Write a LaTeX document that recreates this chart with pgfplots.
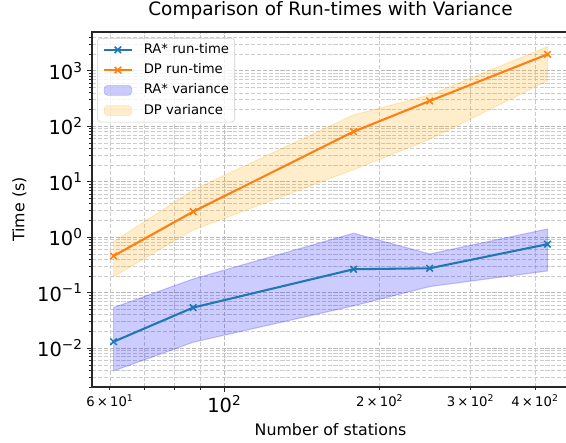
\documentclass[border=0pt]{standalone}
\usepackage{fontspec}
\setmainfont{DejaVu Sans}
\usepackage{pgfplots}
\pgfplotsset{compat=1.18}

\definecolor{raline}{HTML}{1F77B4}
\definecolor{dpline}{HTML}{FF7F0E}
\definecolor{raband}{HTML}{0000FF}
\definecolor{dpband}{HTML}{FFA500}

\pgfplotsset{
  lineleg/.style={legend image code/.code={
    \draw[##1, mark repeat=2, mark phase=2] plot coordinates {(0pt,0pt) (10pt,0pt) (20pt,0pt)};}},
  bandleg/.style={legend image code/.code={
    \draw[##1] (0pt,-3.6pt) rectangle (20pt,3.6pt);}},
}

\begin{document}
\begin{tikzpicture}
\begin{axis}[
    name=ax,
    at={(0,0)}, anchor=south west,
    scale only axis,
    width=343.44pt, height=255.6pt,
    xmode=log, ymode=log,
    xmin=55.4, xmax=465.6,
    ymin=0.002, ymax=5000,
    axis line style={black!85, line width=0.8pt},
    tick pos=left,
    tick align=outside,
    major tick length=3.5pt,
    minor tick length=2pt,
    every tick/.style={black!85, line width=0.6pt},
    xtick={100},
    xticklabels={10\textsuperscript{2}},
    minor xtick={60,70,80,90,200,300,400},
    extra x ticks={60,200,300,400},
    extra x tick labels={6\,×\,10\textsuperscript{1},2\,×\,10\textsuperscript{2},3\,×\,10\textsuperscript{2},4\,×\,10\textsuperscript{2}},
    extra x tick style={grid=none, major tick length=2pt,
      xticklabel style={font=\fontsize{9.5}{11}\selectfont, yshift=-0.9pt}},
    ytick={0.01,0.1,1,10,100,1000},
    yticklabels={10\textsuperscript{−2},10\textsuperscript{−1},10\textsuperscript{0},10\textsuperscript{1},10\textsuperscript{2},10\textsuperscript{3}},
    minor ytick={0.002,0.003,0.004,0.005,0.006,0.007,0.008,0.009,
      0.02,0.03,0.04,0.05,0.06,0.07,0.08,0.09,
      0.2,0.3,0.4,0.5,0.6,0.7,0.8,0.9,
      2,3,4,5,6,7,8,9,
      20,30,40,50,60,70,80,90,
      200,300,400,500,600,700,800,900,
      2000,3000,4000},
    xticklabel style={font=\fontsize{14}{16}\selectfont, inner sep=0pt, yshift=-2.3pt},
    yticklabel style={font=\fontsize{14}{16}\selectfont, inner sep=0pt, xshift=-3pt},
    grid=both,
    major grid style={gray!55, line width=0.5pt, dash pattern=on 2.96pt off 1.28pt},
    minor grid style={gray!40, line width=0.5pt, dash pattern=on 2.96pt off 1.28pt},
    title={Comparison of Run-times with Variance},
    title style={font=\fontsize{13.3}{15}\selectfont, at={(axis description cs:0.5,1.0225)}, anchor=base},
    xlabel={Number of stations},
    xlabel style={font=\fontsize{11.4}{13}\selectfont, at={(axis description cs:0.5,-0.138)}, anchor=base},
    ylabel={Time (s)},
    ylabel style={font=\fontsize{11.4}{13}\selectfont, at={(axis description cs:-0.152,0.5)}, anchor=center},
    legend style={
      at={(axis description cs:0.0105,0.983)}, anchor=north west,
      draw=black!20, rounded corners=2.5pt, fill=white, fill opacity=0.8, text opacity=1,
      font=\fontsize{9.5}{11}\selectfont,
      inner xsep=4.1pt, inner ysep=1pt, row sep=0pt,
      nodes={inner xsep=0pt, inner ysep=2.7pt, text height=7pt, text depth=2.2pt},
      /tikz/every odd column/.append style={column sep=7.9pt},
    },
    legend cell align=left,
]

% variance bands (upper edge left to right, lower edge back)
\addplot[forget plot, fill=raband, fill opacity=0.2, draw=raband, draw opacity=0.2, line width=0.8pt]
  coordinates {(61,0.054) (87,0.177) (178,1.18) (250,0.50) (423,1.41)
               (423,0.247) (250,0.129) (178,0.058) (87,0.0128) (61,0.0039)} -- cycle;
\addplot[forget plot, fill=dpband, fill opacity=0.2, draw=dpband, draw opacity=0.2, line width=0.8pt]
  coordinates {(61,0.83) (87,7.1) (178,160) (250,366) (423,2720)
               (423,663) (250,58) (178,16.5) (87,1.35) (61,0.195)} -- cycle;

% mean run-times
\addplot[raline, line width=1.5pt, mark=x, mark size=3.3pt, mark options={line width=1.1pt}, lineleg]
  coordinates {(61,0.0131) (87,0.054) (178,0.265) (250,0.276) (423,0.75)};
\addlegendentry{RA* run-time}
\addplot[dpline, line width=1.5pt, mark=x, mark size=3.3pt, mark options={line width=1.1pt}, lineleg]
  coordinates {(61,0.46) (87,2.89) (178,80) (250,286) (423,1980)};
\addlegendentry{DP run-time}

\addlegendimage{bandleg, fill=raband, fill opacity=0.2, draw=raband, draw opacity=0.2}
\addlegendentry{RA* variance}
\addlegendimage{bandleg, fill=dpband, fill opacity=0.2, draw=dpband, draw opacity=0.2}
\addlegendentry{DP variance}
\end{axis}
\pgfresetboundingbox
\useasboundingbox ([xshift=-66.24pt,yshift=-40.32pt]ax.south west) rectangle ([xshift=341.28pt,yshift=278.64pt]ax.south west);
\end{tikzpicture}
\end{document}
